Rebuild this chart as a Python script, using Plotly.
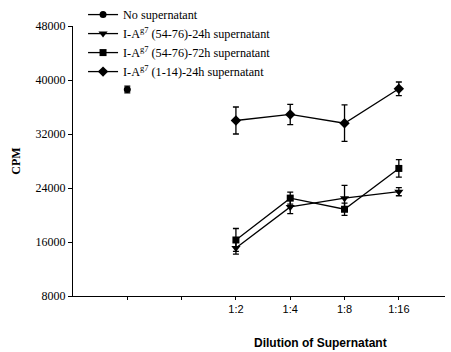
import plotly.graph_objects as go

# Data
no_sup_x = [0]
no_sup_y = [38600]
no_sup_err = [500]

dil_x = [2, 3, 4, 5]
dil_labels = ["1:2", "1:4", "1:8", "1:16"]
extra_tick_x = [0, 1]

tri_24h_y = [15100, 21200, 22500, 23450]
tri_24h_err = [900, 1000, 1900, 600]

sq_72h_y = [16300, 22500, 20850, 26900]
sq_72h_err = [1700, 900, 900, 1300]

dia_114_y = [34000, 34900, 33600, 38700]
dia_114_err = [2000, 1500, 2700, 1000]

y_ticks = [8000, 16000, 24000, 32000, 40000, 48000]

names = [
    "No supernatant",
    "I-A<sup>g7</sup> (54-76)-24h supernatant",
    "I-A<sup>g7</sup> (54-76)-72h supernatant",
    "I-A<sup>g7</sup> (1-14)-24h supernatant",
]

fig = go.Figure()

def add(x, y, err, name, symbol, size):
    fig.add_trace(go.Scatter(
        x=x, y=y, name=name, mode="lines+markers",
        line=dict(color="black", width=1.3),
        marker=dict(symbol=symbol, size=size, color="black"),
        error_y=dict(type="data", array=err, visible=True, color="black",
                     thickness=1.3, width=3),
    ))

add(no_sup_x, no_sup_y, no_sup_err, names[0], "circle", 7)
add(dil_x, tri_24h_y, tri_24h_err, names[1], "triangle-down", 8)
add(dil_x, sq_72h_y, sq_72h_err, names[2], "square", 7)
add(dil_x, dia_114_y, dia_114_err, names[3], "diamond", 8)

fig.update_layout(
    width=451, height=352,
    margin=dict(l=73, r=6, t=26, b=56, autoexpand=False),
    paper_bgcolor="white", plot_bgcolor="white",
    font=dict(family="Liberation Serif", color="black", size=12),
    showlegend=True,
    legend=dict(x=0.027, y=1.096, xanchor="left", yanchor="top",
                bgcolor="rgba(0,0,0,0)", font=dict(size=12.2, family="Liberation Serif"),
                tracegroupgap=0, itemwidth=30),
    xaxis=dict(
        range=[-1, 5.85], showline=True, linecolor="black", linewidth=1,
        showgrid=False, zeroline=False,
        tickvals=dil_x, ticktext=dil_labels,
        ticks="outside", ticklen=3, tickcolor="black",
        tickfont=dict(family="Liberation Sans", size=11),
        minor=dict(tickvals=extra_tick_x, ticks="outside", ticklen=3,
                   tickcolor="black", showgrid=False),
    ),
    yaxis=dict(
        range=[8000, 48000], showline=True, linecolor="black", linewidth=1,
        showgrid=False, zeroline=False,
        tickvals=y_ticks, ticktext=[str(v) for v in y_ticks],
        ticks="outside", ticklen=4, tickcolor="black",
        tickfont=dict(family="Liberation Serif", size=12),
        title=dict(text="<b>CPM</b>", font=dict(family="Liberation Serif", size=12), standoff=12),
    ),
    annotations=[dict(
        text="<b>Dilution of Supernatant</b>", xref="paper", yref="paper",
        x=(320 - 73) / 372, y=-(343 - 296) / 270, xanchor="center", yanchor="middle",
        showarrow=False, font=dict(family="Liberation Sans", size=12),
    )],
)

fig.write_html("out.html")
